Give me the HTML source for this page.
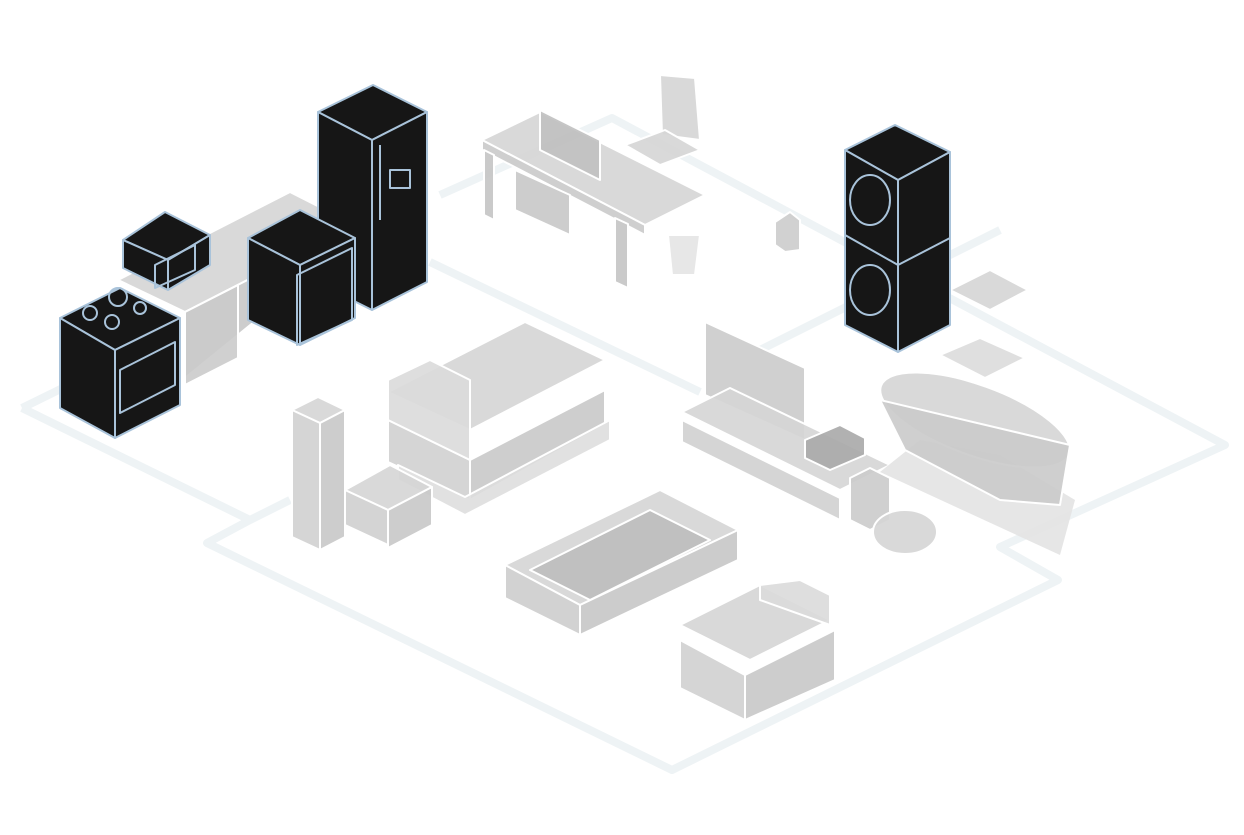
<!DOCTYPE html>
<html><head><meta charset="utf-8"><style>html,body{margin:0;padding:0;background:#fff}svg{display:block}</style></head>
<body>
<svg width="1244" height="835" viewBox="0 0 1244 835" xmlns="http://www.w3.org/2000/svg">
<g fill="none" stroke="#eef3f5" stroke-width="8" stroke-linejoin="round">
<polyline points="22,408 250,520 207,543 672,770 1058,580 1000,547 1225,445 612,118 440,195"/>
<polyline points="22,408 130,355"/>
<polyline points="430,262 700,392"/>
<polyline points="760,350 1000,230"/>
<polyline points="250,520 290,500"/>
</g>
<g stroke="#fff" stroke-width="2" stroke-linejoin="round" fill="#d5d5d5" fill-opacity="0.9">
<!-- counter -->
<polygon points="118,280 290,192 355,225 185,312"/>
<polygon points="185,312 355,225 355,240 185,378" fill="#c8c8c8"/>
<polygon points="185,312 238,285 238,358 185,385" fill="#cbcbcb"/>
<!-- desk -->
<polygon points="482,140 540,112 705,195 645,225" />
<polygon points="482,140 645,225 645,235 482,150" fill="#cacaca"/>
<polygon points="484,150 494,155 494,220 484,215" fill="#c4c4c4"/>
<polygon points="615,218 628,224 628,288 615,282" fill="#c4c4c4"/>
<polygon points="515,170 570,195 570,235 515,210" fill="#c8c8c8"/>
<polygon points="540,110 600,140 600,180 540,150" fill="#c0c0c0"/>
<!-- chair -->
<polygon points="660,75 695,78 700,140 662,135" />
<polygon points="625,145 665,130 700,150 660,165" />
<polygon points="668,235 700,235 695,275 672,275" fill="#e4e4e4"/>
<polygon points="775,222 790,212 800,220 800,250 785,252 775,245" fill="#cccccc"/>
<!-- sofa -->
<polygon points="388,392 525,322 605,360 470,430" />
<polygon points="388,420 470,460 470,500 388,462" fill="#d0d0d0"/>
<polygon points="470,460 605,390 605,425 470,500" fill="#c9c9c9"/>
<polygon points="398,480 465,515 610,440 610,420 465,497 398,465" fill="#dedede"/>
<polygon points="388,380 430,360 470,380 470,460 388,420" fill="#dadada"/>
<!-- speaker tall -->
<polygon points="292,410 318,397 345,410 320,423"/>
<polygon points="292,410 320,423 320,550 292,537" fill="#d0d0d0"/>
<polygon points="320,423 345,410 345,537 320,550" fill="#c8c8c8"/>
<!-- side table -->
<polygon points="345,490 390,465 432,487 388,510"/>
<polygon points="345,490 388,510 388,545 345,525" fill="#cfcfcf"/>
<polygon points="388,510 432,487 432,525 388,548" fill="#c8c8c8"/>
<!-- coffee table -->
<polygon points="505,565 660,490 738,530 580,605"/>
<polygon points="505,565 580,605 580,635 505,598" fill="#cdcdcd"/>
<polygon points="580,605 738,530 738,560 580,635" fill="#c6c6c6"/>
<polygon points="530,570 650,510 710,540 590,600" fill="#bdbdbd"/>
<!-- armchair -->
<polygon points="680,625 760,585 830,620 750,660"/>
<polygon points="680,640 745,675 745,720 680,688" fill="#d0d0d0"/>
<polygon points="745,675 835,630 835,680 745,720" fill="#c8c8c8"/>
<polygon points="760,585 800,580 830,595 830,625 760,600" fill="#dadada"/>
<!-- TV -->
<polygon points="705,322 805,368 805,440 705,395" fill="#cbcbcb"/>
<polygon points="682,412 730,388 890,465 840,490"/>
<polygon points="682,420 840,498 840,520 682,442" fill="#d0d0d0"/>
<polygon points="805,440 840,425 865,438 865,455 830,470 805,458" fill="#a8a8a8"/>
<!-- small speaker -->
<polygon points="850,478 870,468 890,478 890,520 870,530 850,520" fill="#cbcbcb"/>
<!-- plant -->
<ellipse cx="905" cy="532" rx="32" ry="22"/>
<!-- bathtub -->
<polygon points="880,472 1060,555 1075,500 1000,455 920,440" fill="#e3e3e3" stroke="none"/>
<ellipse cx="975" cy="420" rx="100" ry="35" transform="rotate(20 975 420)"/>
<polygon points="880,400 1070,445 1060,505 1000,500 905,450" fill="#cacaca"/>
<!-- sink & mat -->
<polygon points="950,290 990,270 1028,290 990,310"/>
<polygon points="940,355 980,338 1025,358 985,378" fill="#dcdcdc"/>
</g>
<g stroke="#a9c3da" stroke-width="2" stroke-linejoin="round" fill="#161616">
<!-- fridge -->
<polygon points="318,112 373,85 427,112 372,140"/>
<polygon points="318,112 372,140 372,310 318,283"/>
<polygon points="372,140 427,112 427,282 372,310"/>
<line x1="380" y1="145" x2="380" y2="220"/>
<rect x="390" y="170" width="20" height="18" fill="none"/>
<!-- stove -->
<polygon points="60,318 120,288 180,318 115,350"/>
<polygon points="60,318 115,350 115,438 60,408"/>
<polygon points="115,350 180,318 180,405 115,438"/>
<circle cx="90" cy="313" r="7" fill="none"/><circle cx="112" cy="322" r="7" fill="none"/><circle cx="118" cy="297" r="9" fill="none"/><circle cx="140" cy="308" r="6" fill="none"/>
<polygon points="120,370 175,342 175,385 120,413" fill="none"/>
<!-- microwave -->
<polygon points="123,240 165,212 210,235 168,260"/>
<polygon points="123,240 168,260 168,290 123,268"/>
<polygon points="168,260 210,235 210,265 168,290"/>
<polygon points="155,265 195,245 195,270 155,288" fill="none"/>
<!-- dishwasher -->
<polygon points="248,238 300,210 355,238 300,265"/>
<polygon points="248,238 300,265 300,345 248,320"/>
<polygon points="300,265 355,238 355,318 300,345"/>
<polygon points="297,275 352,248 352,320 297,345" fill="none"/>
<!-- washer stack -->
<polygon points="845,150 895,125 950,152 898,180"/>
<polygon points="845,150 898,180 898,352 845,325"/>
<polygon points="898,180 950,152 950,325 898,352"/>
<line x1="845" y1="235" x2="898" y2="265"/>
<line x1="898" y1="265" x2="950" y2="238"/>
<ellipse cx="870" cy="200" rx="20" ry="25" fill="none"/>
<ellipse cx="870" cy="290" rx="20" ry="25" fill="none"/>
</g>
</svg>
</body></html>
